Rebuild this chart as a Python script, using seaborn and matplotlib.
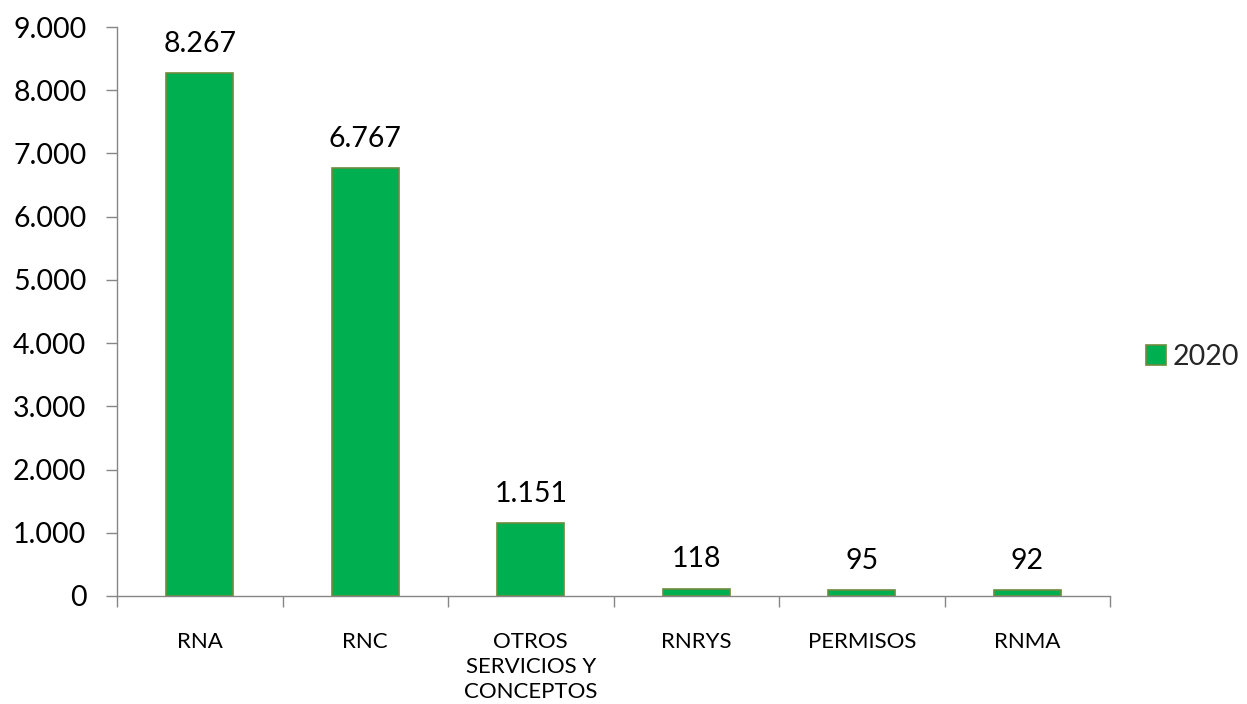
import matplotlib
matplotlib.use("Agg")
import matplotlib.pyplot as plt
import seaborn as sns
import pandas as pd
from matplotlib.ticker import FuncFormatter, FixedLocator, NullFormatter
from matplotlib.patches import Patch

categories = ["RNA", "RNC", "OTROS\nSERVICIOS Y\nCONCEPTOS", "RNRYS", "PERMISOS", "RNMA"]
values = [8267, 6767, 1151, 118, 95, 92]
series_name = "2020"

sns.set_theme(style="white")
plt.rcParams['font.family'] = ['Lato', 'DejaVu Sans']

df = pd.DataFrame({"cat": categories, "val": values})

fig = plt.figure(figsize=(12.47, 7.04), dpi=100)
ax = fig.add_axes([117/1247, 1-596/704, (1110-117)/1247, (596-27)/704])

green = "#00B050"
edge = "#6E8B3D"
sns.barplot(data=df, x="cat", y="val", color=green, width=0.405,
            edgecolor=edge, linewidth=1.2, saturation=1, ax=ax)

def fmt(v):
    return f"{int(round(v)):,}".replace(",", ".")

for p, v in zip(ax.patches, values):
    ax.text(p.get_x() + p.get_width()/2, v + 260, fmt(v), ha="center", va="bottom",
            fontsize=20.5, color="black")

ax.set_xlim(-0.5, 5.5)
ax.set_ylim(0, 9000)
ax.set_yticks(range(0, 9001, 1000))
ax.yaxis.set_major_formatter(FuncFormatter(lambda v, p: fmt(v)))
ax.tick_params(axis="y", labelsize=20.5, length=8, width=1, color="#868686",
               direction="out", left=True, pad=14, labelcolor="black")
ax.tick_params(axis="x", which="major", length=0, labelsize=16, pad=26, labelcolor="black")
ax.xaxis.set_minor_locator(FixedLocator([i - 0.5 for i in range(7)]))
ax.xaxis.set_minor_formatter(NullFormatter())
ax.tick_params(axis="x", which="minor", length=8, width=1, color="#868686",
               direction="out", bottom=True)
for lab in ax.get_xticklabels():
    lab.set_verticalalignment("top")
    lab.set_linespacing(1.3)
ax.set_xlabel("")
ax.set_ylabel("")
for s in ["top", "right"]:
    ax.spines[s].set_visible(False)
for s in ["left", "bottom"]:
    ax.spines[s].set_color("#868686")
    ax.spines[s].set_linewidth(1)
ax.grid(False)

handle = Patch(facecolor=green, edgecolor=edge, linewidth=1.2, label=series_name)
fig.legend(handles=[handle], loc="center left", bbox_to_anchor=(1146/1247, 1-357/704),
           frameon=False, fontsize=20.5, handlelength=0.7, handleheight=0.7,
           handletextpad=0.25, borderpad=0, borderaxespad=0)

fig.savefig("out.png", dpi=100)
